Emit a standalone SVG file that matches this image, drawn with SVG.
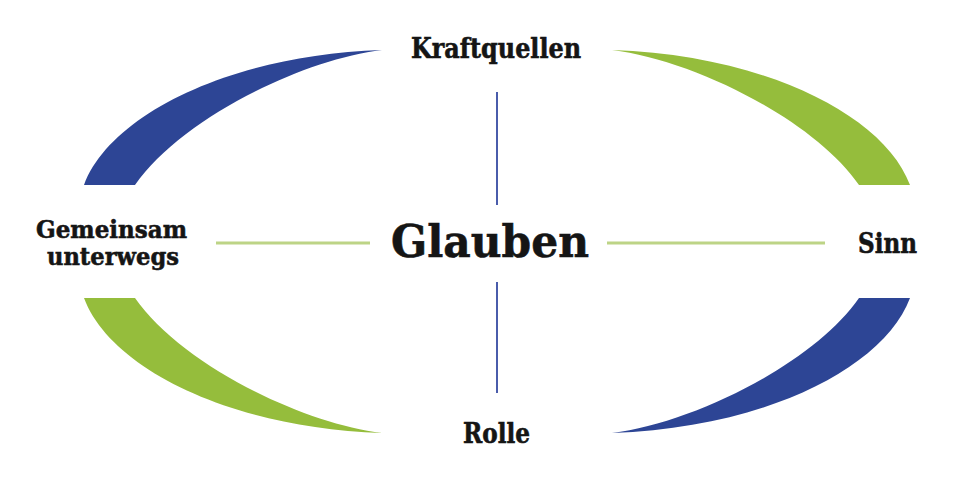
<svg xmlns="http://www.w3.org/2000/svg" width="960" height="480" viewBox="0 0 960 480">
  <style>
    .lbl { font-family: "DejaVu Serif", "Liberation Serif", serif; font-weight: bold; fill: #151515; stroke: #151515; stroke-width: 0.6; }
    .blue { fill: #2d4595; }
    .green { fill: #95bd3c; }
    .vline { stroke: #4a5cab; stroke-width: 2; }
    .hline { stroke: #bdd486; stroke-width: 3; }
  </style>
  <defs>
    <path id="arc" d="M 84 185 C 110 115, 230 55, 382 50 C 300 60, 180 120, 135 185 Z"/>
  </defs>
  <rect width="960" height="480" fill="#ffffff"/>
  <g id="arcs">
    <use href="#arc" class="blue"/>
    <use href="#arc" class="green" transform="translate(994,0) scale(-1,1)"/>
    <use href="#arc" class="green" transform="translate(0,483) scale(1,-1)"/>
    <use href="#arc" class="blue" transform="translate(994,483) scale(-1,-1)"/>
  </g>
  <g id="connectors">
    <line class="vline" x1="497" y1="92" x2="497" y2="205"/>
    <line class="vline" x1="497" y1="282" x2="497" y2="393"/>
    <line class="hline" x1="216" y1="243" x2="370" y2="243"/>
    <line class="hline" x1="607" y1="243" x2="825" y2="243"/>
  </g>
  <g id="node-glauben">
    <text class="lbl" x="391" y="257" font-size="45" textLength="198" lengthAdjust="spacingAndGlyphs">Glauben</text>
  </g>
  <g id="node-kraftquellen">
    <text class="lbl" x="411" y="58" font-size="27" textLength="170" lengthAdjust="spacingAndGlyphs">Kraftquellen</text>
  </g>
  <g id="node-sinn">
    <text class="lbl" x="858" y="253" font-size="27" textLength="59" lengthAdjust="spacingAndGlyphs">Sinn</text>
  </g>
  <g id="node-rolle">
    <text class="lbl" x="463" y="443" font-size="27" textLength="67" lengthAdjust="spacingAndGlyphs">Rolle</text>
  </g>
  <g id="node-gemeinsam">
    <text class="lbl" x="36" y="238" font-size="25" textLength="151" lengthAdjust="spacingAndGlyphs">Gemeinsam</text>
    <text class="lbl" x="47" y="265" font-size="25" textLength="132" lengthAdjust="spacingAndGlyphs">unterwegs</text>
  </g>
</svg>
